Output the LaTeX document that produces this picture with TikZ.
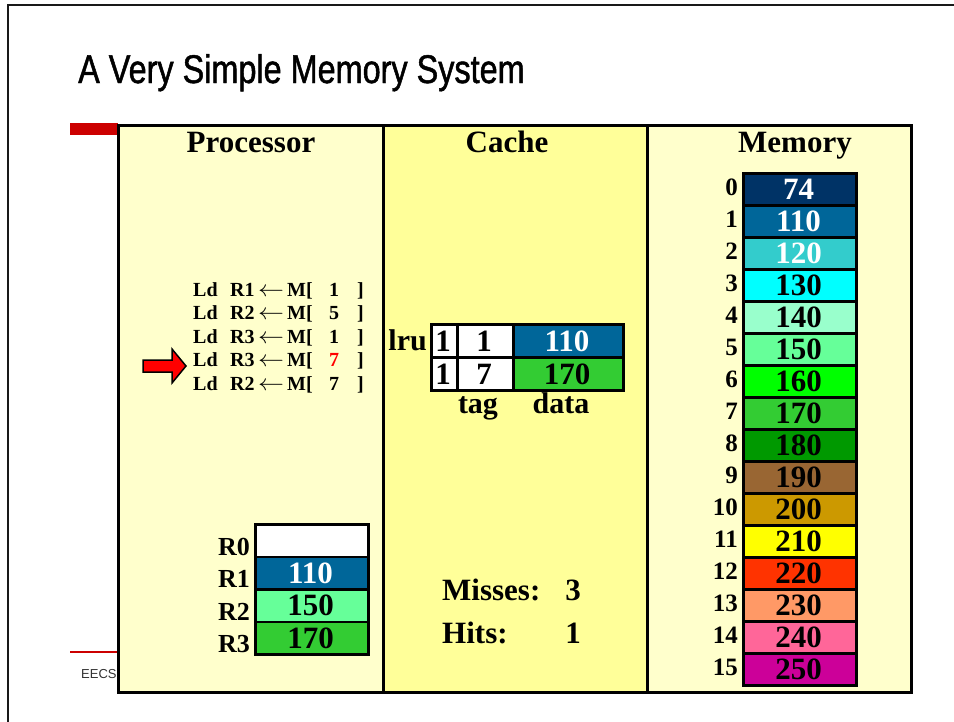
\documentclass[tikz,border=0pt]{standalone}
\usepackage{fontspec}
\usepackage{graphicx}
\setmainfont{Liberation Serif}
\newfontfamily\titlefont[FakeStretch=0.81,FakeBold=1.2]{Liberation Sans}
\newfontfamily\footfont{Liberation Sans}

% memory / register palette
\definecolor{m0}{HTML}{003366}
\definecolor{m1}{HTML}{006699}
\definecolor{m2}{HTML}{33CCCC}
\definecolor{m3}{HTML}{00FFFF}
\definecolor{m4}{HTML}{99FFCC}
\definecolor{m5}{HTML}{66FF99}
\definecolor{m6}{HTML}{00FF00}
\definecolor{m7}{HTML}{33CC33}
\definecolor{m8}{HTML}{009900}
\definecolor{m9}{HTML}{996633}
\definecolor{m10}{HTML}{CC9900}
\definecolor{m11}{HTML}{FFFF00}
\definecolor{m12}{HTML}{FF3300}
\definecolor{m13}{HTML}{FF9966}
\definecolor{m14}{HTML}{FF6699}
\definecolor{m15}{HTML}{CC0099}
\definecolor{paleyellow}{HTML}{FFFFCC}
\definecolor{midyellow}{HTML}{FFFF99}
\definecolor{slidered}{HTML}{CC0000}

\tikzset{
  hdr/.style={font=\fontsize{31}{31}\selectfont\bfseries, anchor=base, inner sep=0pt},
  val/.style={font=\fontsize{31}{31}\selectfont\bfseries, anchor=base, inner sep=0pt},
  idx/.style={font=\fontsize{25}{25}\selectfont\bfseries, anchor=base east, inner sep=0pt},
  reglbl/.style={font=\fontsize{26}{26}\selectfont\bfseries, anchor=base east, inner sep=0pt},
  ins/.style={font=\fontsize{20}{20}\selectfont\bfseries, anchor=base west, inner sep=0pt},
  insnum/.style={font=\fontsize{20}{20}\selectfont\bfseries, anchor=base, inner sep=0pt},
  cell/.style={draw=black, line width=2.5pt, inner sep=0pt, anchor=north west},
  panel/.style={draw=black, line width=3pt},
}

\begin{document}
\begin{tikzpicture}[x=1pt,y=-1pt]
\useasboundingbox (0,0) rectangle (954,721);
\fill[white] (0,0) rectangle (954,721);

% slide frame
\draw[line width=2.5pt, black!90] (8,730) -- (8,5) -- (960,5);

% title
\node[anchor=base west, inner sep=0pt, font=\titlefont\fontsize{40}{40}\selectfont] (title) at (78,83) {A Very Simple Memory System};

% red accents of the slide template
\fill[slidered] (70,123) rectangle (118,135);
\draw[slidered, line width=2pt] (70,652) -- (118,652);
\node[anchor=base west, inner sep=0pt, font=\footfont\fontsize{13}{13}\selectfont, text=black!80] (eecs) at (81,678) {EECS};

% the three panels
\fill[paleyellow] (118,125) rectangle (383,692);
\fill[midyellow] (383,125) rectangle (647,692);
\fill[paleyellow] (647,125) rectangle (911,692);
\draw[panel] (118,125) rectangle (911,692);
\draw[panel] (383,125) -- (383,692);
\draw[panel] (647,125) -- (647,692);

\node[hdr] (hproc) at (251,152) {Processor};
\node[hdr] (hcache) at (507,152) {Cache};
\node[hdr] (hmem) at (795,152) {Memory};

% instruction stream
\foreach \i/\r/\a/\c in {0/1/1/black, 1/2/5/black, 2/3/1/black, 3/3/7/red, 4/2/7/black}{
  \node[ins] (ld\i) at (193,{296+23.5*\i}) {Ld};
  \node[ins] (rg\i) at (230,{296+23.5*\i}) {R\r};
  \node[ins] (ar\i) at (258,{296+23.5*\i}) {\scalebox{1.25}[1.1]{$\leftarrow$}};
  \node[ins] (mb\i) at (287,{296+23.5*\i}) {M[};
  \node[insnum, text=\c] (ad\i) at (334,{296+23.5*\i}) {\a};
  \node[ins] (cb\i) at (357,{296+23.5*\i}) {]};
}

% program counter arrow
\coordinate (pcTip) at (186,366);
\filldraw[fill=red, draw=black, line width=1.5pt]
  (143,360) -- (172,360) -- (172,349) -- (pcTip) -- (172,383) -- (172,372) -- (143,372) -- cycle;

% register file
\foreach \i/\v/\f/\t in {0//white/black, 1/110/m1/white, 2/150/m5/black, 3/170/m7/black}{
  \node[cell, fill=\f, minimum width=113pt, minimum height=32.5pt] (reg\i) at (254,{523+32.5*\i}) {};
  \node[val, text=\t] (regv\i) at (310.5,{523+32.5*\i+27.5}) {\v};
  \node[reglbl] (regl\i) at (250,{523+32.5*\i+32}) {R\i};
}

% cache
\node[anchor=base east, inner sep=0pt, font=\fontsize{30}{30}\selectfont\bfseries] (lru) at (427,350) {lru};
\foreach \i/\l/\g/\v/\f/\t in {0/1/1/110/m1/white, 1/1/7/170/m7/black}{
  \node[cell, fill=white, minimum width=26pt, minimum height=33pt] (cl\i) at (430,{323+33*\i}) {};
  \node[cell, fill=white, minimum width=56pt, minimum height=33pt] (ct\i) at (456,{323+33*\i}) {};
  \node[cell, fill=\f, minimum width=110pt, minimum height=33pt] (cd\i) at (512,{323+33*\i}) {};
  \node[val] (clv\i) at (443,{323+33*\i+28}) {\l};
  \node[val] (ctv\i) at (484,{323+33*\i+28}) {\g};
  \node[val, text=\t] (cdv\i) at (567,{323+33*\i+28}) {\v};
}
\node[hdr, font=\fontsize{30}{30}\selectfont\bfseries] (taglbl) at (478,413) {tag};
\node[hdr, font=\fontsize{30}{30}\selectfont\bfseries] (datalbl) at (561,413) {data};

% statistics
\node[anchor=base west, inner sep=0pt, font=\fontsize{31}{31}\selectfont\bfseries] (misses) at (442,600) {Misses:};
\node[hdr] (missn) at (573,600) {3};
\node[anchor=base west, inner sep=0pt, font=\fontsize{31}{31}\selectfont\bfseries] (hits) at (442,643) {Hits:};
\node[hdr] (hitn) at (573,643) {1};

% main memory
\foreach \i/\v/\t in {0/74/white, 1/110/white, 2/120/white, 3/130/black, 4/140/black, 5/150/black, 6/160/black, 7/170/black, 8/180/black, 9/190/black, 10/200/black, 11/210/black, 12/220/black, 13/230/black, 14/240/black, 15/250/black}{
  \node[cell, fill=m\i, minimum width=113pt, minimum height=32pt] (mem\i) at (742,{172+32*\i}) {};
  \node[val, text=\t] (memv\i) at (798.5,{172+32*\i+27}) {\v};
  \node[idx] (memi\i) at (738,{172+32*\i+23}) {\i};
}
\end{tikzpicture}
\end{document}
